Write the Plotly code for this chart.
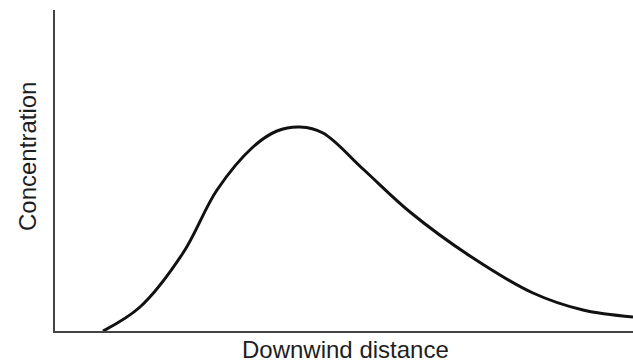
import plotly.graph_objects as go

# downwind distance (arbitrary units) and ground-level concentration
distance = [48, 85, 128, 162, 198, 222, 245, 268, 308, 355, 415, 478, 528, 578]
concentration = [0, 24, 78, 141, 184, 200, 204, 198, 162, 119, 75, 38, 21, 14]

x_label = "Downwind distance"
y_label = "Concentration"

fig = go.Figure()
fig.add_trace(go.Scatter(
    x=distance, y=concentration, mode="lines",
    line=dict(color="#111111", width=3, shape="spline", smoothing=1.0),
    hoverinfo="skip", showlegend=False,
))

W, H = 633, 364
ml, mr, mt, mb = 55, 0, 10, 33

fig.update_layout(
    width=W, height=H,
    margin=dict(l=ml, r=mr, t=mt, b=mb),
    paper_bgcolor="white", plot_bgcolor="white",
    font=dict(family="Liberation Sans, Arial, sans-serif", color="#1e1e1e"),
    showlegend=False,
)
fig.update_xaxes(range=[0, 578], showgrid=False, zeroline=False, showticklabels=False,
                 ticks="", showline=True, linecolor="#444444", linewidth=2)
fig.update_yaxes(range=[0, 321], showgrid=False, zeroline=False, showticklabels=False,
                 ticks="", showline=True, linecolor="#444444", linewidth=2)

# axis titles placed in pixel terms
fig.add_annotation(text=y_label, xref="paper", yref="paper",
                   x=(27 - ml) / (W - ml - mr), y=(H - mb - 157) / (H - mt - mb),
                   showarrow=False, textangle=-90, font=dict(size=24),
                   xanchor="center", yanchor="middle")
fig.add_annotation(text=x_label, xref="paper", yref="paper",
                   x=(345 - ml) / (W - ml - mr), y=-(350 - (H - mb)) / (H - mt - mb),
                   showarrow=False, font=dict(size=24),
                   xanchor="center", yanchor="middle")

fig.write_html("out.html", config={"displayModeBar": False},
               post_script="document.body.style.margin='0';document.body.style.overflow='hidden';")
